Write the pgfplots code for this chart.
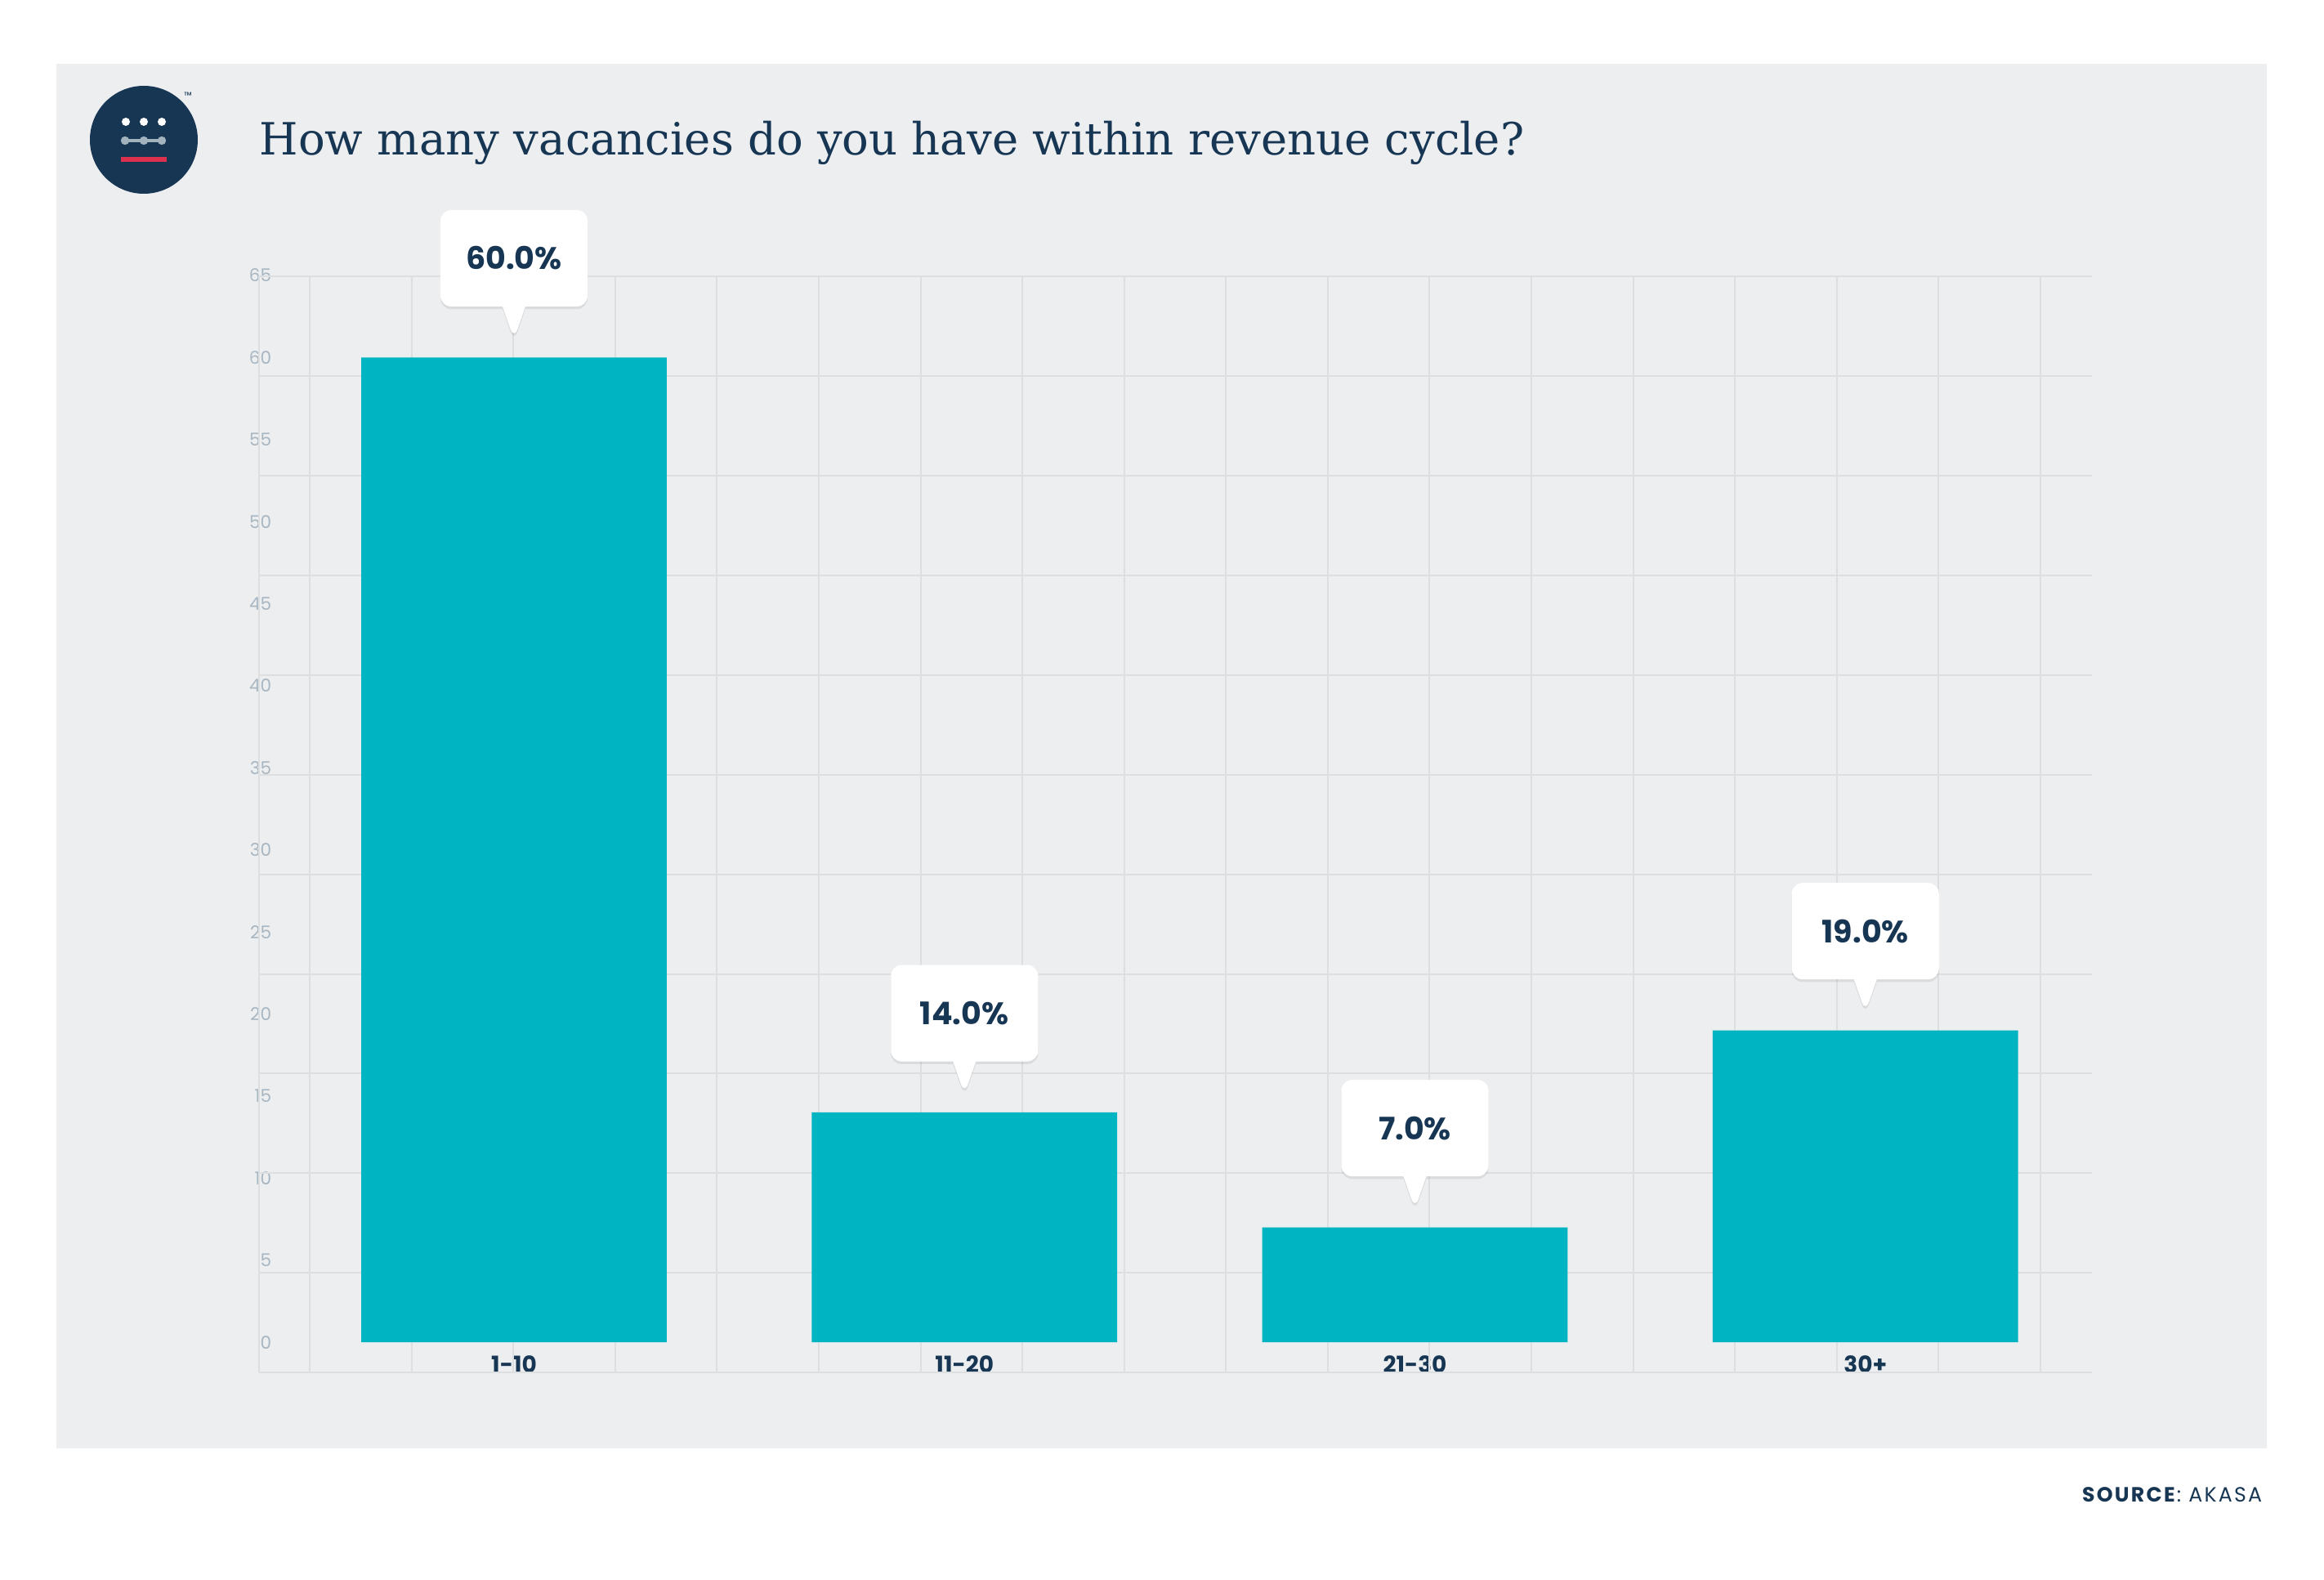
\documentclass[border=0pt]{standalone}
\usepackage{fontspec}
\setmainfont{Poppins}
\newfontfamily\titlefont{DejaVu Serif}
\usepackage{pgfplots}
\pgfplotsset{compat=1.18}
\usetikzlibrary{shapes.callouts,shadows}
\definecolor{panel}{RGB}{237,238,240}
\definecolor{gridc}{RGB}{221,222,224}
\definecolor{barc}{RGB}{0,180,193}
\definecolor{navy}{RGB}{23,54,84}
\definecolor{ticklab}{RGB}{168,183,194}
\definecolor{logored}{RGB}{220,49,78}
\definecolor{logogray}{RGB}{163,179,189}
\begin{document}
\begin{tikzpicture}
\path[use as bounding box, fill=white] (0,0) rectangle (711pt,483pt);
\fill[panel] (17.25pt,40pt) rectangle (693.5pt,463.5pt);
% logo
\fill[navy] (44pt,440.25pt) circle (16.5pt);
\foreach \xx in {38.5,44,49.5} {\fill[white] (\xx pt,445.75pt) circle (1.25pt);}
\draw[logogray, line width=1pt] (38.25pt,440pt) -- (49.5pt,440pt);
\foreach \xx in {38.25,44,49.5} {\fill[logogray] (\xx pt,440pt) circle (1.3pt);}
\fill[logored] (37pt,433.4pt) rectangle (51pt,435.1pt);
\node[font=\fontsize{3}{3}\selectfont, text=navy, inner sep=0pt] at (57.5pt,453.75pt) {™};
% title
\node[anchor=base west, inner sep=0pt, text=navy, font=\titlefont\fontsize{13.6}{15}\selectfont] at (79.25pt,435.5pt) {How many vacancies do you have within revenue cycle?};
% source
\node[anchor=base east, inner sep=0pt, text=navy, font=\fontsize{6.3}{7}\selectfont\addfontfeature{LetterSpace=9}] at (692.25pt,23.75pt) {\textbf{SOURCE}: AKASA};
\begin{axis}[
  at={(79.25pt,63.25pt)}, anchor=south west,
  scale only axis, width=560.75pt, height=335.5pt,
  xmin=-0.566, xmax=3.503, ymin=-1.84, ymax=65,
  axis line style={draw=none},
  major tick length=0pt,
  clip=false,
  /pgf/number format/assume math mode=true,
  xtick={0,1,2,3}, xticklabels={1-10,11-20,21-30,30+},
  ytick={0,5,...,65},
  extra x ticks={-0.566,-0.4535,-0.2275,-0.0015,0.2245,0.4505,0.6765,0.9025,1.1285,1.3545,1.5805,1.8065,2.0325,2.2585,2.4845,2.7105,2.9365,3.1625,3.3885},
  extra x tick labels={},
  extra x tick style={grid=major, major tick length=0pt},
  extra y ticks={-1.84,4.23,10.30,16.37,22.44,28.51,34.58,40.65,46.72,52.79,58.86,64.93},
  extra y tick labels={},
  extra y tick style={grid=major, major tick length=0pt},
  grid style={draw=gridc, line width=0.5pt},
  xticklabel style={anchor=base, inner sep=0pt, yshift=0pt, font=\bfseries\fontsize{7}{8}\selectfont, text=navy},
  yticklabel style={anchor=east, inner sep=0pt, xshift=4pt, font=\fontsize{5.4}{6}\selectfont, text=ticklab},
  ybar, bar width=0.678,
  nodes near coords={\pgfmathprintnumber[fixed, fixed zerofill, precision=1]{\pgfplotspointmeta}\%},
  every node near coord/.append style={shape=rectangle callout, fill=white, rounded corners=3.3pt,
     minimum width=45pt, minimum height=29.5pt, inner sep=0pt,
     callout relative pointer={(0pt,-10pt)}, callout pointer width=7pt,
     anchor=pointer, yshift=5pt,
     font=\bfseries\fontsize{9.5}{10}\selectfont, text=navy,
     drop shadow={shadow xshift=0pt, shadow yshift=-0.8pt, opacity=0.08, fill=black}},
]
\addplot[fill=barc, draw=none] coordinates {(0,60) (1,14) (2,7) (3,19)};
\end{axis}
\end{tikzpicture}
\end{document}
